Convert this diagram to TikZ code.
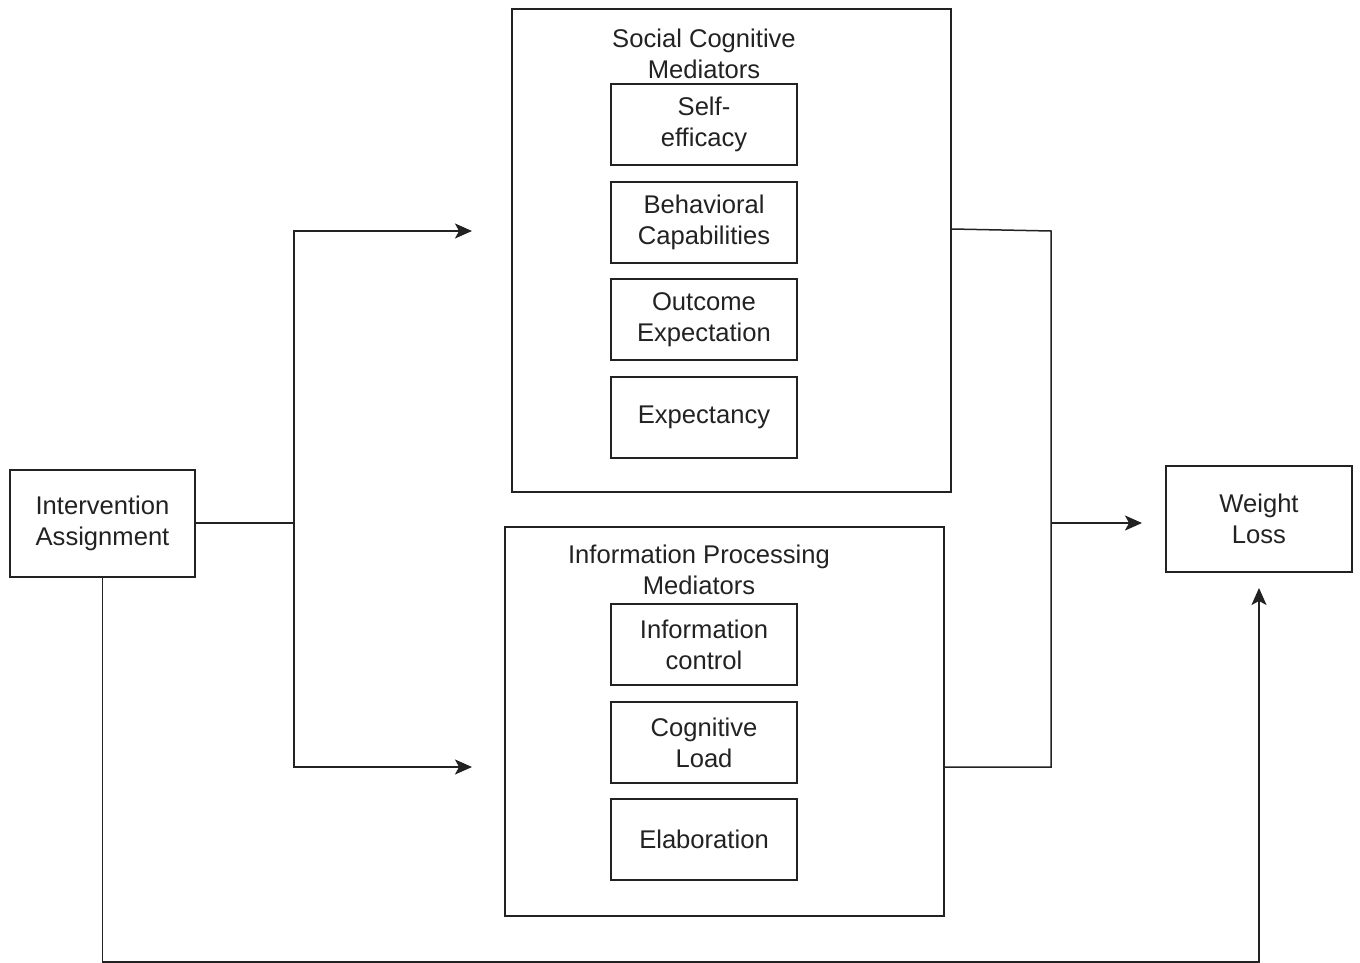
\documentclass[tikz,border=0pt]{standalone}
\usepackage{fontspec}
\setmainfont{Liberation Sans}
\usetikzlibrary{arrows.meta}
\definecolor{ink}{HTML}{222222}
\begin{document}
\begin{tikzpicture}[x=0.5pt,y=-0.5pt,
  box/.style={draw=ink,line width=1pt,rectangle,inner sep=0pt,align=center,
    font=\fontsize{12.8}{15.5}\selectfont,text=ink},
  inner/.style={box,minimum width=93pt,minimum height=40.5pt},
  title/.style={align=center,font=\fontsize{12.8}{15.5}\selectfont,text=ink,inner sep=0pt},
  conn/.style={draw=ink,line width=0.75pt},
  arr/.style={conn,-{Stealth[length=8.5pt,width=7.5pt,inset=2pt]}}]
\useasboundingbox (0,0) rectangle (1360,963);
\node[box,minimum width=92.5pt,minimum height=53.5pt] (ia) at (102.5,523.5) {Intervention\\Assignment};
\node[box,minimum width=93pt,minimum height=53pt] (wl) at (1259,519) {Weight\\Loss};
\node[box,minimum width=219.5pt,minimum height=241.5pt] (sc) at (731.5,250.5) {};
\node[box,minimum width=219.5pt,minimum height=194.5pt] (ip) at (724.5,721.5) {};
\node[title] (sct) at (704,54) {Social Cognitive\\Mediators};
\node[title] (ipt) at (699,570) {Information Processing\\Mediators};
\node[inner] (s1) at (704,124.5) {Self-\\efficacy};
\node[inner] (s2) at (704,222.5) {Behavioral\\Capabilities};
\node[inner] (s3) at (704,319.5) {Outcome\\Expectation};
\node[inner] (s4) at (704,417.5) {Expectancy};
\node[inner] (i1) at (704,644.5) {Information\\control};
\node[inner] (i2) at (704,742.5) {Cognitive\\Load};
\node[inner] (i3) at (704,839.5) {Elaboration};
\coordinate (jL) at (294,523);
\coordinate (jR) at (1051,523);
\coordinate (toSC) at (472,231);
\coordinate (toIP) at (472,767);
\coordinate (rTop) at (1051,231);
\coordinate (rBot) at (1051,767);
\coordinate (bL) at (102.5,962);
\coordinate (wTip) at (1259,588);
\draw[conn] (ia.east |- jL) -- (jL);
\draw[arr] (jL) |- (toSC);
\draw[arr] (jL) |- (toIP);
\draw[conn] (sc.east |- 0,229) -- (rTop) -- (rBot) -- (ip.east |- rBot);
\draw[arr] (jR) -- ([xshift=-11.5pt]wl.west |- jR);
\draw[arr] (ia.south) -- (bL) -| (wTip);
\end{tikzpicture}
\end{document}
